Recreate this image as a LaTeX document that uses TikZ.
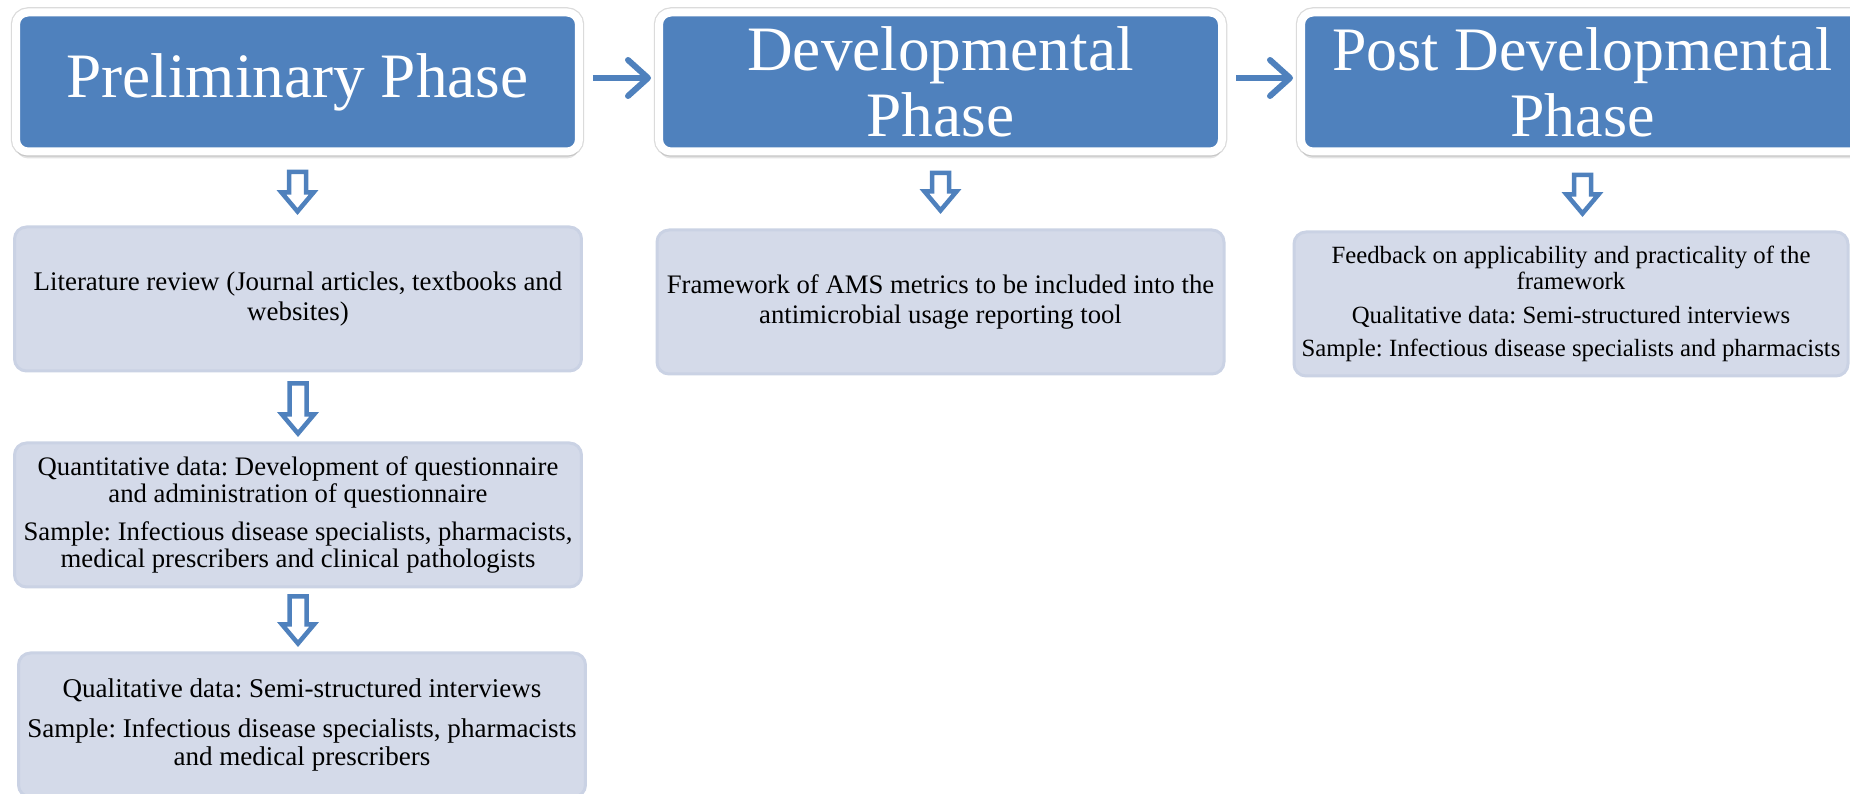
\documentclass[tikz,border=0pt]{standalone}
\usepackage{fontspec}
\setmainfont{Liberation Serif}
\usepackage{tikz}
\usetikzlibrary{arrows.meta,shadows,calc}
\frenchspacing

\definecolor{phaseblue}{HTML}{4F81BD}
\definecolor{boxfill}{HTML}{D4DAE9}
\definecolor{boxline}{HTML}{CAD2E4}

\tikzset{
  phase/.style={rectangle, rounded corners=1.2mm, fill=phaseblue, draw=white,
    line width=0.8mm, minimum width=56.3mm, minimum height=13.9mm, inner sep=0pt,
    text=white, align=center, font=\fontsize{18}{18.8}\selectfont,
    preaction={draw=black!14, line width=1.05mm},
    drop shadow={shadow xshift=0mm, shadow yshift=-0.7mm, opacity=0.22}},
  info/.style={rectangle, rounded corners=1.2mm, fill=boxfill, draw=boxline,
    line width=0.3mm, minimum width=56.7mm, minimum height=14.4mm, inner sep=0pt,
    align=center},
  flow/.style={draw=phaseblue, line width=0.6mm,
    -{Straight Barb[length=2mm,width=3.6mm,round]},
    shorten <=1mm, shorten >=0.4mm},
  hollow/.style={draw=phaseblue, fill=white, line width=0.45mm, line join=miter}
}

\begin{document}
\begin{tikzpicture}[x=0.1mm,y=-0.1mm]
\useasboundingbox (0,0) rectangle (1850,794);
\clip (0,0) rectangle (1850,794);

% phases
\node[phase] (pre)  at (297.5,82)  {Preliminary Phase};
\node[phase] (dev)  at (940.5,82)  {Developmental\\Phase};
\node[phase, font=\fontsize{17.6}{18.8}\selectfont] (post) at (1582.5,82) {Post Developmental\\Phase};

% boxes under the phases
\node[info, font=\fontsize{7.65}{8.6}\selectfont] (lit) at (298,299)
  {Literature review (Journal articles, textbooks and\\websites)};
\node[info, font=\fontsize{7.6}{8.4}\selectfont] (frame) at (940.5,302)
  {Framework of AMS metrics to be included into the\\antimicrobial usage reporting tool};
\node[info, minimum width=55.4mm, font=\fontsize{7.05}{7.4}\selectfont] (feed) at (1571,304)
  {Feedback on applicability and practicality of the\\framework\\[2.1pt]
   Qualitative data: Semi-structured interviews\\[2.1pt]
   Sample: Infectious disease specialists and pharmacists};
\node[info, font=\fontsize{7.6}{7.7}\selectfont] (quan) at (298,515)
  {Quantitative data: Development of questionnaire\\and administration of questionnaire\\[3.3pt]
   Sample: Infectious disease specialists, pharmacists,\\medical prescribers and clinical pathologists};
\node[info, font=\fontsize{7.7}{8}\selectfont] (qual) at (302,725)
  {Qualitative data: Semi-structured interviews\\[3.3pt]
   Sample: Infectious disease specialists, pharmacists\\and medical prescribers};

% arrows between phases
\draw[flow] ([yshift=0.4mm]pre.east) -- ([yshift=0.4mm]dev.west);
\draw[flow] ([yshift=0.4mm]dev.east) -- ([yshift=0.4mm]post.west);

% hollow down arrows
\foreach \a/\b/\s/\e in {pre/lit/1.65/1.4, dev/frame/1.75/1.8, post/feed/1.95/1.7,
                         lit/quan/1.1/0.8, quan/qual/0.8/0.8}
  \draw[hollow] let \p1=(\a.south), \p2=(\b.north) in
    (\x1-0.85mm,\y1-\s mm) -- (\x1+0.85mm,\y1-\s mm) -- (\x1+0.85mm,\y2+\e mm+1.9mm)
    -- (\x1+1.6mm,\y2+\e mm+1.9mm) -- (\x1,\y2+\e mm) -- (\x1-1.6mm,\y2+\e mm+1.9mm)
    -- (\x1-0.85mm,\y2+\e mm+1.9mm) -- cycle;
\end{tikzpicture}
\end{document}
